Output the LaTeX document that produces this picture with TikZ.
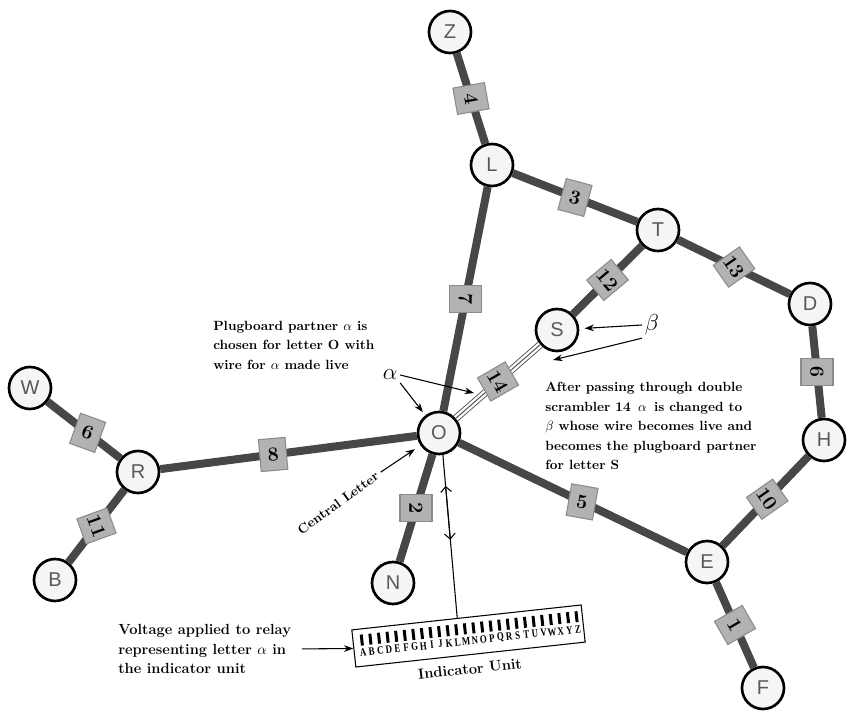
\documentclass[tikz,border=0pt]{standalone}
\usepackage{fontspec}
\newfontfamily\lettfont{Liberation Sans}
\newfontfamily\relayfont[FakeStretch=0.78]{Liberation Serif}
\usetikzlibrary{arrows.meta,calc}

\begin{document}
\begin{tikzpicture}[x=0.75pt, y=-0.75pt,
    letter/.style={circle, draw, line width=2pt, fill=black!4, minimum size=31.5pt, inner sep=0pt,
      text=black!65, font=\lettfont\fontsize{15}{15}\selectfont},
    wire/.style={line width=6pt, black!72},
    scr/.style={rectangle, draw=black!45, line width=0.8pt, fill=black!30, minimum width=20pt,
      minimum height=24pt, inner sep=1.5pt, text=black, font=\bfseries\fontsize{15}{15}\selectfont},
    note/.style={align=left, inner sep=0pt, font=\bfseries\fontsize{10}{14.6}\selectfont},
    ann/.style={line width=0.8pt, -{Stealth[length=7pt,width=5pt]}},
    greek/.style={inner sep=2pt, font=\fontsize{16}{16}\selectfont}]

      \useasboundingbox (0,0) rectangle (847,716);

      \node [letter] (Z) at (450,32)  {Z};
      \node [letter] (L) at (492,165) {L};
      \node [letter] (T) at (658,230) {T};
      \node [letter] (S) at (557,330) {S};
      \node [letter] (D) at (810,304) {D};
      \node [letter] (H) at (824,440) {H};
      \node [letter] (O) at (439,433) {O};
      \node [letter] (R) at (138,472) {R};
      \node [letter] (W) at (30,388)  {W};
      \node [letter] (B) at (55,580)  {B};
      \node [letter] (N) at (393,583) {N};
      \node [letter] (E) at (707,562) {E};
      \node [letter] (F) at (763,688) {F};

      \draw [wire] (Z) -- node [scr, rotate=-80] (s4) {4} (L);
      \draw [wire] (L) -- node [scr, rotate=-15] (s3) {3} (T);
      \draw [wire] (L) -- node [scr, rotate=-90] (s7) {7} (O);
      \draw [wire] (T) -- node [scr, rotate=-50] (s12) {12} (S);
      \draw [wire] (T) -- node [scr, rotate=-55] (s13) {13} (D);
      \draw [wire] (D) -- node [scr, rotate=90] (s9) {9} (H);
      \draw [wire] (R) -- node [scr, pos=0.44, rotate=5] (s8) {8} (O);
      \draw [wire] (W) -- node [scr, pos=0.55, rotate=-20] (s6) {6} (R);
      \draw [wire] (R) -- node [scr, rotate=-70] (s11) {11} (B);
      \draw [wire] (O) -- node [scr, rotate=-90] (s2) {2} (N);
      \draw [wire] (O) -- node [scr, pos=0.54, rotate=-10] (s5) {5} (E);
      \draw [wire] (H) -- node [scr, pos=0.48, rotate=-55] (s10) {10} (E);
      \draw [wire] (E) -- node [scr, rotate=-60] (s1) {1} (F);

      \draw [line width=5.5pt, black!70] (O) -- (S);
      \draw [line width=4.2pt, white] (O) -- (S);
      \draw [line width=0.7pt, black!70] (O) -- node [scr, rotate=-60] (s14) {14} (S);

      \node [greek] (alpha) at (390,375) {$\alpha$};
      \node [greek] (beta) at (652,325) {$\beta$};
      \coordinate (aw) at (474,393);
      \coordinate (bw) at (553,360);
      \draw [ann] (alpha.east) -- (aw);
      \draw [ann, shorten >=3pt] (alpha.south east) -- (O);
      \draw [ann, shorten >=4pt] (beta.west) -- (S);
      \draw [ann] (beta.south west) -- (bw);

      \node [note, anchor=west] (plug) at (213,345)
        {Plugboard partner $\alpha$ is\\chosen for letter O with\\wire for $\alpha$ made live};
      \node [note, anchor=west] (after) at (545,426)
        {After passing through double\\scrambler 14 \,$\alpha$\, is changed to\\$\beta$ whose wire becomes live and\\becomes the plugboard partner\\for letter S};

      \node [note, rotate=36] (cl) at (338,503) {Central Letter};
      \draw [ann, shorten <=3pt, shorten >=5pt] (cl.east) -- (O);

      \node [draw, line width=0.8pt, minimum width=173pt, minimum height=28pt, inner sep=0pt,
        rotate=6.2] (ind) at (468.5,636) {};
      \begin{scope}[shift={(ind.center)}, rotate=6.2, transform shape]
        \foreach \ch [count=\i] in {A,...,Z} {
          \fill ({-108+(\i-1)*8.64},-13) rectangle ++(3,11);
          \node [inner sep=0pt, font=\relayfont\bfseries\fontsize{8.5}{8.5}\selectfont] (k\i)
            at ({-106.5+(\i-1)*8.64},5) {\ch};
        }
      \end{scope}
      \node [font=\bfseries\fontsize{11}{11}\selectfont, rotate=6.2] (indlbl) at (470,669) {Indicator Unit};

      \coordinate (itop) at ($(ind.north west)!0.46!(ind.north east)$);
      \draw [line width=0.8pt] (O.-80) -- (itop);
      \draw [line width=0.8pt, {Straight Barb[length=4pt]}-{Straight Barb[length=4pt]}]
        ($(O.-80)!0.19!(itop)$) -- ($(O.-80)!0.52!(itop)$);

      \node [note, anchor=west, font=\bfseries\fontsize{11}{14.6}\selectfont] (volt) at (118,649)
        {Voltage applied to relay\\representing letter $\alpha$ in\\the indicator unit};
      \draw [ann, shorten <=8pt] (volt.east) -- (ind.west);
    \end{tikzpicture}
\end{document}
